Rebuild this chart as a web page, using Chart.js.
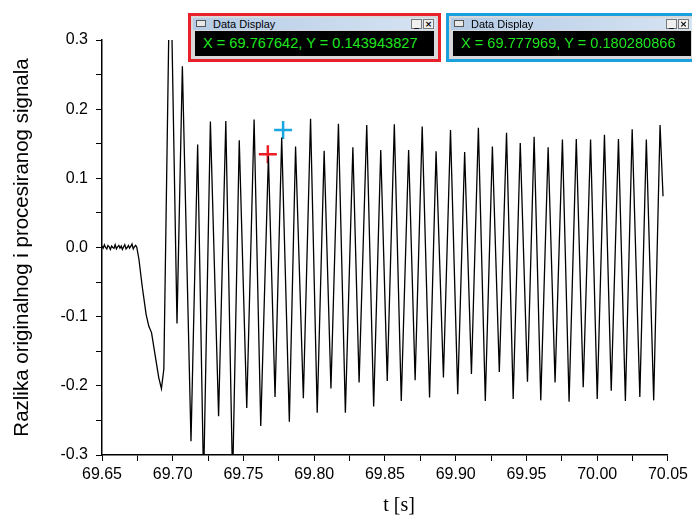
<!DOCTYPE html>
<html>
<head>
<meta charset="utf-8">
<title>Razlika signala</title>
<script src="https://cdn.jsdelivr.net/npm/chart.js@4.4.1/dist/chart.umd.min.js"></script>
<style>
    body { margin: 0; background: #fff; }
    #wrap { position: relative; width: 692px; height: 517px; overflow: hidden; }
    canvas { display: block; }
    .dd { position: absolute; top: 13px; height: 49px; box-sizing: border-box; border: 3px solid #e8202a; background: #d8d8d8; }
    .dd.blue { border-color: #1aa0de; }
    .dd .bar { position: absolute; left: 2px; right: 2px; top: 2px; height: 12px; background: linear-gradient(to right, #b4cbe6, #d7e4f3); font: 11px "Liberation Sans", Arial, sans-serif; color: #000; line-height: 12px; }
    .dd .pin { position: absolute; left: 3px; top: 2px; width: 10px; height: 7px; border: 1px solid #555; background: #e8e8e8; box-sizing: border-box; }
    .dd .name { position: absolute; left: 20px; top: 0; }
    .dd .btn { position: absolute; top: 1px; width: 11px; height: 10px; background: #f0f0f0; border: 1px solid #777; box-sizing: border-box; font: bold 9px "DejaVu Sans", sans-serif; line-height: 8px; text-align: center; }
    .dd .screen { position: absolute; left: 4px; right: 4px; top: 15px; height: 25px; background: #000; color: #1ee61e; font: 14.6px "Liberation Sans", Arial, sans-serif; line-height: 25px; padding-left: 8px; white-space: nowrap; }
</style>
</head>
<body>
<div id="wrap">
    <canvas id="signal-chart" width="692" height="517"></canvas>
    <div class="dd" style="left: 188px; width: 253px;">
        <div class="bar"><span class="pin"></span><span class="name">Data Display</span>
            <span class="btn" style="right: 14px;">_</span><span class="btn" style="right: 2px;">×</span></div>
        <div class="screen">X = 69.767642, Y = 0.143943827</div>
    </div>
    <div class="dd blue" style="left: 446px; width: 252px;">
        <div class="bar"><span class="pin"></span><span class="name">Data Display</span>
            <span class="btn" style="right: 16px;">_</span><span class="btn" style="right: 4px;">×</span></div>
        <div class="screen">X = 69.777969, Y = 0.180280866</div>
    </div>
</div>
<script>
// Signal trace (time in s, difference between original and processed signal)
const timeValues = [
    69.6500, 69.6508, 69.6517, 69.6525, 69.6534, 69.6542, 69.6551, 69.6559, 69.6568, 69.6576,
    69.6585, 69.6593, 69.6602, 69.6610, 69.6619, 69.6627, 69.6636, 69.6644, 69.6653, 69.6661,
    69.6670, 69.6678, 69.6687, 69.6695, 69.6704, 69.6712, 69.6721, 69.6729, 69.6738, 69.6746,
    69.6761, 69.6784, 69.6812, 69.6831, 69.6850, 69.6878, 69.6901, 69.6920, 69.6937,
    69.6982, 69.7030, 69.7068, 69.7129, 69.7176, 69.7218, 69.7266, 69.7324, 69.7375, 69.7423,
    69.7470, 69.7523, 69.7575, 69.7622, 69.7676, 69.7723, 69.7770, 69.7824, 69.7868, 69.7923,
    69.7974, 69.8021, 69.8070, 69.8118, 69.8171, 69.8220, 69.8273, 69.8317, 69.8371, 69.8420,
    69.8470, 69.8516, 69.8566, 69.8615, 69.8667, 69.8713, 69.8763, 69.8815, 69.8861, 69.8913,
    69.8963, 69.9014, 69.9063, 69.9111, 69.9160, 69.9209, 69.9259, 69.9308, 69.9359, 69.9406,
    69.9456, 69.9507, 69.9554, 69.9601, 69.9653, 69.9702, 69.9754, 69.9801, 69.9852, 69.9901,
    69.9953, 70.0000, 70.0051, 70.0099, 70.0150, 70.0199, 70.0247, 70.0301, 70.0347, 70.0399,
    70.0444, 70.0465
];
const signalValues = [
    0.002, -0.001, 0.004, 0.000, -0.002, 0.003, 0.001, -0.003, 0.002, 0.000,
    -0.001, 0.004, -0.002, 0.001, 0.003, -0.001, 0.002, -0.003, 0.001, 0.004,
    -0.002, 0.000, 0.003, -0.001, 0.002, 0.005, -0.002, 0.001, 0.003, 0.000,
    -0.017, -0.056, -0.097, -0.114, -0.123, -0.159, -0.188, -0.204, -0.176,
    0.450, -0.110, 0.262, -0.280, 0.149, -0.340, 0.182, -0.244, 0.183, -0.340,
    0.155, -0.232, 0.185, -0.258, 0.132, -0.216, 0.159, -0.252, 0.146, -0.218,
    0.186, -0.239, 0.140, -0.204, 0.179, -0.239, 0.145, -0.195, 0.177, -0.230,
    0.141, -0.193, 0.178, -0.222, 0.141, -0.192, 0.175, -0.217, 0.139, -0.188,
    0.170, -0.212, 0.138, -0.183, 0.173, -0.222, 0.146, -0.180, 0.166, -0.219,
    0.151, -0.194, 0.160, -0.221, 0.145, -0.195, 0.156, -0.223, 0.157, -0.202,
    0.156, -0.219, 0.163, -0.207, 0.157, -0.222, 0.171, -0.216, 0.156, -0.221,
    0.177, 0.074
];

// Cursor markers (red, blue)
const cursorTimes = [69.7672, 69.7780];
const cursorValues = [0.135, 0.170];
const cursorColors = ['#ee1c24', '#1aa6e0'];

// Axis ranges
const xMin = 69.65, xMax = 70.05, xStep = 0.025;
const yMin = -0.3, yMax = 0.3, yStep = 0.05;

const tracePoints = timeValues.map((t, i) => ({ x: t, y: signalValues[i] }));
const cursorPoints = cursorTimes.map((t, i) => ({ x: t, y: cursorValues[i] }));

// Draw the x title a little right of the plot centre, like the original
const xTitlePlugin = {
    id: 'xTitle',
    afterDraw(chart) {
        const ctx = chart.ctx;
        ctx.save();
        ctx.font = '20px "Liberation Serif", serif';
        ctx.fillStyle = '#000';
        ctx.textAlign = 'center';
        ctx.textBaseline = 'middle';
        ctx.fillText('t [s]', 399, 506);
        ctx.restore();
    }
};

const axisFont = { family: '"Liberation Sans", Arial, sans-serif', size: 16 };

new Chart(document.getElementById('signal-chart'), {
    type: 'line',
    data: {
        datasets: [
            {
                data: tracePoints,
                borderColor: '#000',
                borderWidth: 1.3,
                pointRadius: 0,
                tension: 0,
                fill: false
            },
            {
                type: 'scatter',
                data: cursorPoints,
                pointStyle: 'cross',
                pointRadius: 9,
                pointBorderWidth: 2.5,
                pointBorderColor: cursorColors,
                borderColor: cursorColors
            }
        ]
    },
    options: {
        responsive: false,
        animation: false,
        events: [],
        layout: { padding: { left: 0, right: 21, top: 40, bottom: 0 } },
        plugins: {
            legend: { display: false },
            tooltip: { enabled: false }
        },
        scales: {
            x: {
                type: 'linear',
                min: xMin,
                max: xMax,
                afterFit(scale) { scale.height = 62; },
                border: { display: true, color: '#000', width: 1.5 },
                grid: { display: true, drawOnChartArea: false, drawTicks: true, tickLength: 6, color: '#000' },
                ticks: {
                    stepSize: xStep,
                    autoSkip: false,
                    maxRotation: 0,
                    padding: 4,
                    color: '#000',
                    font: axisFont,
                    callback: (value, index) => index % 2 === 0 ? Number(value).toFixed(2) : ''
                }
            },
            y: {
                min: yMin,
                max: yMax,
                afterFit(scale) { scale.width = 102; },
                border: { display: true, color: '#000', width: 1.5 },
                grid: { display: true, drawOnChartArea: false, drawTicks: true, tickLength: 6, color: '#000' },
                ticks: {
                    stepSize: yStep,
                    autoSkip: false,
                    padding: 8,
                    color: '#000',
                    font: axisFont,
                    callback: (value, index) => index % 2 === 0 ? Number(value).toFixed(1) : ''
                },
                title: {
                    display: true,
                    text: 'Razlika originalnog i procesiranog signala',
                    color: '#000',
                    font: { family: '"Liberation Sans", Arial, sans-serif', size: 20.5 },
                    padding: { top: 10, bottom: 0 }
                }
            }
        }
    },
    plugins: [xTitlePlugin]
});
</script>
</body>
</html>
